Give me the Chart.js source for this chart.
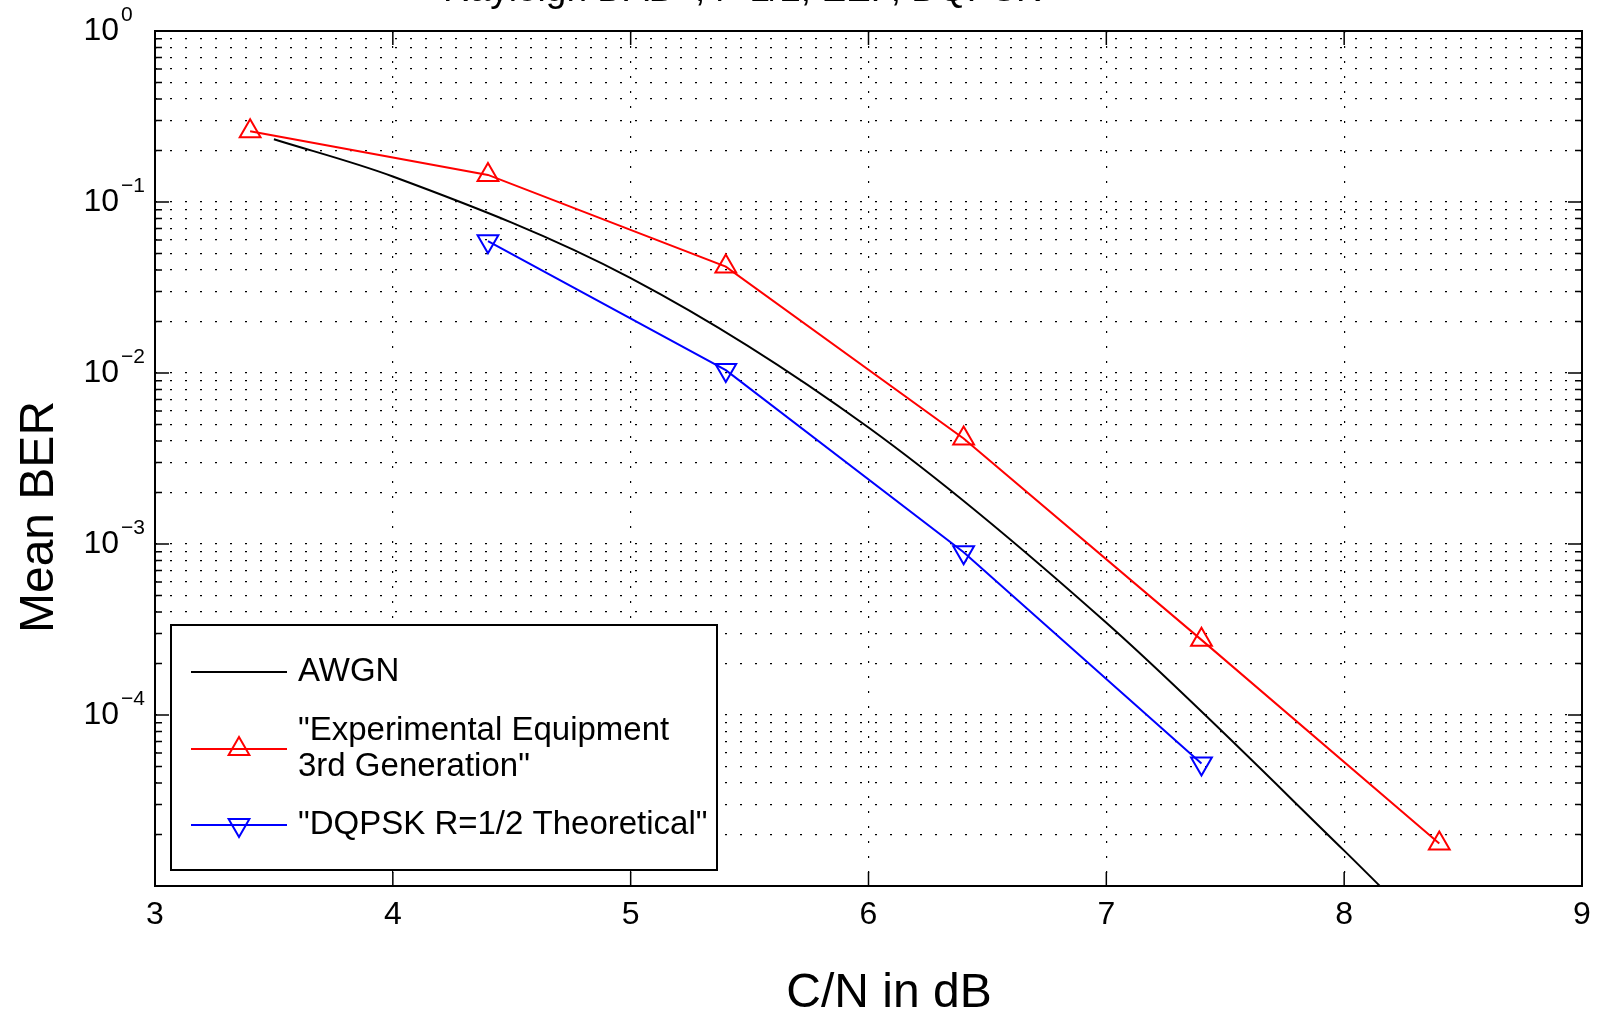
<!DOCTYPE html>
<html>
<head>
<meta charset="utf-8">
<title>Mean BER vs C/N</title>
<script src="https://cdn.jsdelivr.net/npm/chart.js@4.4.1/dist/chart.umd.min.js"></script>
<style>
  html, body { margin: 0; padding: 0; background: #fff; }
  #wrap { width: 1597px; height: 1013px; }
</style>
</head>
<body>
<div id="wrap"><canvas id="berChart" width="1597" height="1013"></canvas></div>
<script>
// Values
const titleText = 'Rayleigh DAB+, r=1/2, EEP, DQPSK';
const xTicks = [3, 4, 5, 6, 7, 8, 9];
const yDecadeExp = [0, -1, -2, -3, -4];          // labelled decades
const yGridExp = [-5, -4, -3, -2, -1];            // decades that get minor lines
const yMantissas = [1, 2, 3, 4, 5, 6, 7, 8, 9];

const awgnCN = [3.5, 4, 5, 6, 7, 8, 8.15];
const awgnBer = [0.233, 0.141, 0.0359, 0.0048, 0.000346, 0.0000161, 0.00001];

const expCN = [3.4, 4.4, 5.4, 6.4, 7.4, 8.4];
const expBer = [0.259, 0.144, 0.0419, 0.00414, 0.000275, 0.0000177];

const theoCN = [4.4, 5.4, 6.4, 7.4];
const theoBer = [0.059, 0.0104, 0.000895, 0.000052];

const legendItems = [
  { lines: ['AWGN'], color: '#000000', marker: null },
  { lines: ['"Experimental Equipment', '3rd Generation"'], color: '#ff0000', marker: 'up' },
  { lines: ['"DQPSK R=1/2 Theoretical"'], color: '#0000ff', marker: 'down' },
];

const FONT = "'Liberation Sans', Arial, Helvetica, sans-serif";
const toPoints = (xs, ys) => xs.map((x, i) => ({ x: x, y: ys[i] }));

// all y grid values: 1..9 x 10^n, plus the top 10^0
const yGridValues = [];
yGridExp.forEach(e => yMantissas.forEach(m => yGridValues.push(m * Math.pow(10, e))));
yGridValues.push(1);

function triangle(ctx, x, y, r, down) {
  const s = down ? -1 : 1;
  ctx.beginPath();
  ctx.moveTo(x, y - s * r);
  ctx.lineTo(x + r * Math.sin(Math.PI / 3), y + s * r / 2);
  ctx.lineTo(x - r * Math.sin(Math.PI / 3), y + s * r / 2);
  ctx.closePath();
  ctx.stroke();
}

// MATLAB-like frame: box, inner ticks, tick labels, titles, legend
const matlabFrame = {
  id: 'matlabFrame',
  afterDraw(chart) {
    const ctx = chart.ctx;
    const area = chart.chartArea;
    const xs = chart.scales.x;
    const ys = chart.scales.y;
    ctx.save();

    // inner ticks
    ctx.strokeStyle = '#000';
    ctx.lineWidth = 1.5;
    ctx.beginPath();
    xTicks.forEach(v => {
      const px = xs.getPixelForValue(v);
      ctx.moveTo(px, area.bottom); ctx.lineTo(px, area.bottom - 14);
      ctx.moveTo(px, area.top); ctx.lineTo(px, area.top + 14);
    });
    yGridValues.forEach(v => {
      const py = ys.getPixelForValue(v);
      const m = Math.round(v / Math.pow(10, Math.floor(Math.log10(v) + 1e-9)));
      const len = m === 1 ? 14 : 7;
      ctx.moveTo(area.left, py); ctx.lineTo(area.left + len, py);
      ctx.moveTo(area.right, py); ctx.lineTo(area.right - len, py);
    });
    ctx.stroke();

    // axes box
    ctx.lineWidth = 2;
    ctx.strokeRect(area.left, area.top, area.right - area.left, area.bottom - area.top);

    ctx.fillStyle = '#000';
    // x tick labels
    ctx.font = '32px ' + FONT;
    ctx.textAlign = 'center';
    ctx.textBaseline = 'middle';
    xTicks.forEach(v => ctx.fillText(String(v), xs.getPixelForValue(v), 915));

    // y tick labels 10^n
    yDecadeExp.forEach(e => {
      const py = ys.getPixelForValue(Math.pow(10, e));
      ctx.font = '32px ' + FONT;
      ctx.textAlign = 'right';
      ctx.textBaseline = 'middle';
      ctx.fillText('10', 119, py);
      ctx.font = '21px ' + FONT;
      ctx.textAlign = 'left';
      ctx.fillText(e === 0 ? '0' : '\u2212' + Math.abs(e), 121, py - 16);
    });

    // axis titles
    ctx.font = '48px ' + FONT;
    ctx.textAlign = 'center';
    ctx.textBaseline = 'alphabetic';
    ctx.fillText('C/N in dB', 889, 1007);
    ctx.save();
    ctx.translate(53, 517);
    ctx.rotate(-Math.PI / 2);
    ctx.fillText('Mean BER', 0, 0);
    ctx.restore();

    // plot title, cut off by the top of the figure
    ctx.font = '37px ' + FONT;
    ctx.textAlign = 'left';
    ctx.fillText(titleText, 443, 1);

    // legend
    const box = { x: 171, y: 625, w: 546, h: 245 };
    ctx.fillStyle = '#fff';
    ctx.fillRect(box.x, box.y, box.w, box.h);
    ctx.strokeStyle = '#000';
    ctx.lineWidth = 2;
    ctx.strokeRect(box.x, box.y, box.w, box.h);
    const rowY = [672, 749, 825];
    const lineY = [[672], [731, 767], [825]];
    legendItems.forEach((item, i) => {
      ctx.strokeStyle = item.color;
      ctx.lineWidth = 2;
      ctx.beginPath();
      ctx.moveTo(191, rowY[i]); ctx.lineTo(287, rowY[i]);
      ctx.stroke();
      if (item.marker) triangle(ctx, 239, rowY[i], 12, item.marker === 'down');
      ctx.fillStyle = '#000';
      ctx.font = '33px ' + FONT;
      ctx.textAlign = 'left';
      ctx.textBaseline = 'middle';
      item.lines.forEach((t, j) => ctx.fillText(t, 298, lineY[i][j]));
    });

    ctx.restore();
  }
};

const ctx = document.getElementById('berChart').getContext('2d');

new Chart(ctx, {
  type: 'line',
  data: {
    datasets: [
      {
        label: 'AWGN',
        data: toPoints(awgnCN, awgnBer),
        borderColor: '#000000',
        borderWidth: 2,
        pointRadius: 0,
        cubicInterpolationMode: 'monotone',
      },
      {
        label: 'Experimental Equipment 3rd Generation',
        data: toPoints(expCN, expBer),
        borderColor: '#ff0000',
        borderWidth: 2,
        pointStyle: 'triangle',
        pointRadius: 12,
        pointBorderWidth: 2,
        pointBorderColor: '#ff0000',
        pointBackgroundColor: 'rgba(0,0,0,0)',
      },
      {
        label: 'DQPSK R=1/2 Theoretical',
        data: toPoints(theoCN, theoBer),
        borderColor: '#0000ff',
        borderWidth: 2,
        pointStyle: 'triangle',
        pointRotation: 180,
        pointRadius: 12,
        pointBorderWidth: 2,
        pointBorderColor: '#0000ff',
        pointBackgroundColor: 'rgba(0,0,0,0)',
      },
    ],
  },
  options: {
    responsive: false,
    animation: false,
    events: [],
    layout: { padding: { left: 155, top: 31, right: 15, bottom: 127 } },
    plugins: {
      legend: { display: false },
      title: { display: false },
      tooltip: { enabled: false },
    },
    scales: {
      x: {
        type: 'linear',
        min: 3,
        max: 9,
        afterBuildTicks: scale => { scale.ticks = xTicks.map(v => ({ value: v })); },
        ticks: { display: false },
        grid: { color: '#000000', lineWidth: 1.2, drawTicks: false, tickLength: 0 },
        border: { display: false, dash: [2, 13] },
      },
      y: {
        type: 'logarithmic',
        min: 1e-5,
        max: 1,
        afterBuildTicks: scale => { scale.ticks = yGridValues.map(v => ({ value: v })); },
        ticks: { display: false },
        grid: { color: '#000000', lineWidth: 1.2, drawTicks: false, tickLength: 0 },
        border: { display: false, dash: [2, 13] },
      },
    },
  },
  plugins: [matlabFrame],
});
</script>
</body>
</html>
